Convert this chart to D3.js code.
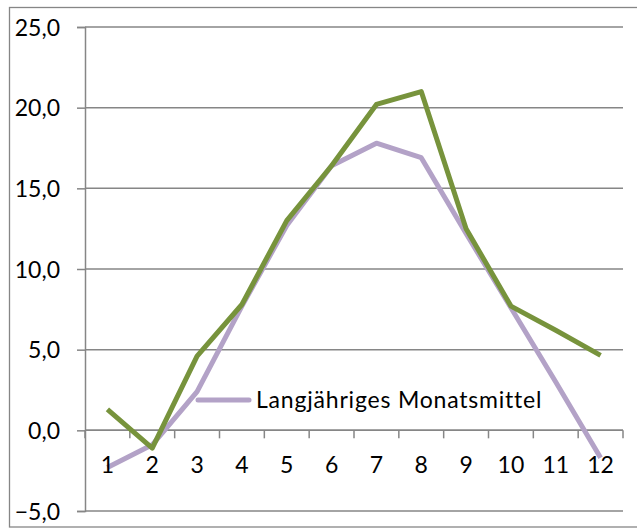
<!DOCTYPE html>
<html><head><meta charset="utf-8">
<script src="https://cdn.jsdelivr.net/npm/d3@7"></script>
<style>html,body{margin:0;padding:0;background:#fff;}svg{display:block;}</style>
</head><body>
<svg id="c" width="637" height="529"></svg>
<script>
const months = ["1","2","3","4","5","6","7","8","9","10","11","12"];
const langjaehrig = [-2.3, -0.9, 2.4, 7.7, 12.7, 16.4, 17.8, 16.9, 12.2, 7.6, 3.0, -1.7];
const aktuell = [1.3, -1.1, 4.6, 7.8, 13.0, 16.4, 20.2, 21.0, 12.5, 7.7, 6.2, 4.65];
const yTicks = [-5, 0, 5, 10, 15, 20, 25];
const legendLabel = "Langjähriges Monatsmittel";

const svg = d3.select("#c");
const font = "Lato, 'Open Sans', sans-serif";
const gridColor = "#868686";
const mLeft = 85, mRight = 623, mTop = 27, mBottom = 511;
const fs = 23;

svg.append("rect").attr("x", 9.5).attr("y", 7.5).attr("width", 640).attr("height", 519.5)
  .attr("fill", "none").attr("stroke", gridColor).attr("stroke-width", 1.3);

const x = d3.scaleBand().domain(months).range([mLeft, mRight]).paddingInner(0).paddingOuter(0);
const y = d3.scaleLinear().domain([-5, 25]).range([mBottom, mTop]);

// gridlines + y ticks
const yAxis = d3.axisLeft(y).tickValues(yTicks).tickSize(8).tickFormat(d => d3.format(".1f")(d).replace(".", ","));
const gy = svg.append("g").attr("transform", `translate(${mLeft},0)`).call(yAxis);
gy.select(".domain").attr("stroke", gridColor).attr("stroke-width", 1.5);
gy.selectAll(".tick line").attr("stroke", gridColor).attr("stroke-width", 1.5);
gy.selectAll(".tick text").attr("font-family", font).attr("font-size", fs).attr("fill", "#000")
  .attr("x", -25).attr("dy", "0.36em");
svg.append("g").selectAll("line").data(yTicks).join("line")
  .attr("x1", mLeft).attr("x2", mRight).attr("y1", d => y(d)).attr("y2", d => y(d))
  .attr("stroke", gridColor).attr("stroke-width", 1.5);

// x axis at zero
const boundaries = months.map(m => x(m)).concat([mRight]);
svg.append("line").attr("x1", mLeft).attr("x2", mRight).attr("y1", y(0)).attr("y2", y(0))
  .attr("stroke", gridColor).attr("stroke-width", 1.5);
svg.append("g").selectAll("line").data(boundaries).join("line")
  .attr("x1", d => d).attr("x2", d => d).attr("y1", y(0)).attr("y2", y(0) + 8)
  .attr("stroke", gridColor).attr("stroke-width", 1.5);

const line = d3.line().x((d, i) => x(months[i]) + x.bandwidth() / 2).y(d => y(d));
svg.append("path").datum(langjaehrig).attr("d", line).attr("fill", "none")
  .attr("stroke", "#B3A2C7").attr("stroke-width", 5).attr("stroke-linejoin", "round");
svg.append("path").datum(aktuell).attr("d", line).attr("fill", "none")
  .attr("stroke", "#77933C").attr("stroke-width", 5).attr("stroke-linejoin", "round");

// x labels
svg.append("g").selectAll("text").data(months).join("text")
  .attr("x", d => x(d) + x.bandwidth() / 2).attr("y", 473)
  .attr("text-anchor", "middle").attr("font-family", font).attr("font-size", fs).attr("fill", "#000")
  .text(d => d);

// legend
svg.append("line").attr("x1", 198).attr("x2", 249).attr("y1", 400).attr("y2", 400)
  .attr("stroke", "#B3A2C7").attr("stroke-width", 5).attr("stroke-linecap", "round");
svg.append("text").attr("x", 256).attr("y", 408).attr("font-family", font).attr("font-size", fs)
  .attr("letter-spacing", 0.8).attr("fill", "#000").text(legendLabel);
</script>
</body></html>
